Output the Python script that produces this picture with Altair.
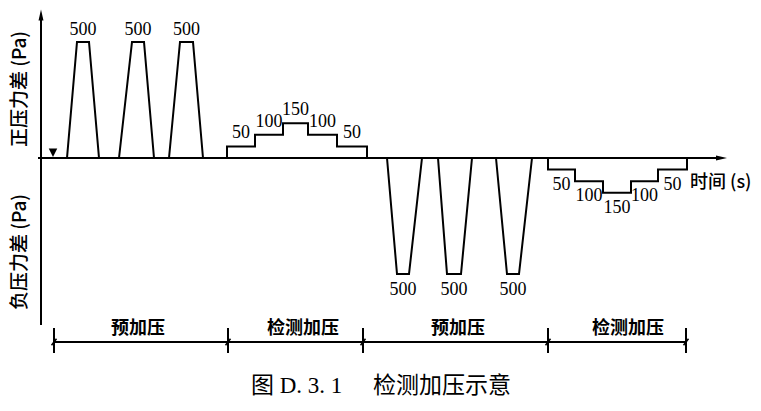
import altair as alt
import pandas as pd

# ---- values (time in s from origin, pressure difference in Pa) ----
POS_PULSES = [[26, 36, 48, 58], [78, 91, 103, 113], [128, 139, 152, 162]]
NEG_PULSES = [[346, 356, 368, 381], [397, 406, 420, 431], [455, 466, 478, 491]]
PULSE_PEAK = 500
POS_STEP_T = [186, 214, 242, 267, 296, 326]
NEG_STEP_T = [507, 534, 562, 590, 617, 646]
STEP_LEVELS = [50, 100, 150, 100, 50]
PHASE_BOUNDS = [13, 187, 322, 507, 645]
PHASE_NAMES = ["预加压", "检测加压", "预加压", "检测加压"]
PHASE_LABEL_T = [97, 262, 417, 587]
START_MARK_T = 12
CAPTION_PARTS = ["图 D. 3. 1", "检测加压示意"]

# axis / annotation extents (in data units)
X_AXIS_START, X_AXIS_END = -3, 686
Y_AXIS_BOTTOM, Y_AXIS_TOP = -720, 640
DIM_LINE_P, DIM_TICK_TOP, DIM_TICK_BOTTOM, PHASE_LABEL_P = -793, -733, -840, -735

xs = alt.Scale(domain=[-33, 712], nice=False, zero=False)
ys = alt.Scale(domain=[-1056.03, 646.55], nice=False, zero=False)
X = lambda f: alt.X(f, type="quantitative", scale=xs, axis=None)
Y = lambda f: alt.Y(f, type="quantitative", scale=ys, axis=None)

# ---- traces ----
rows = []
tr = 0
for sign, pulses in ((1, POS_PULSES), (-1, NEG_PULSES)):
    for s, a, b, e in pulses:
        for i, (t, p) in enumerate([(s, 0), (a, sign * PULSE_PEAK), (b, sign * PULSE_PEAK), (e, 0)]):
            rows.append(dict(trace=tr, order=i, t=t, p=p))
        tr += 1
for sign, ts in ((1, POS_STEP_T), (-1, NEG_STEP_T)):
    pts = [(ts[0], 0)]
    for k, lv in enumerate(STEP_LEVELS):
        pts.append((ts[k], sign * lv))
        pts.append((ts[k + 1], sign * lv))
    pts.append((ts[-1], 0))
    for i, (t, p) in enumerate(pts):
        rows.append(dict(trace=tr, order=i, t=t, p=p))
    tr += 1
traces = pd.DataFrame(rows)

lines = alt.Chart(traces).mark_line(color="black", strokeWidth=2, strokeJoin="miter").encode(
    x=X("t"), y=Y("p"), detail="trace:N", order="order:Q"
)

# ---- axes ----
xaxis = alt.Chart(pd.DataFrame({"t": [X_AXIS_START], "t2": [X_AXIS_END - 8], "p": [0]})).mark_rule(
    color="black", strokeWidth=2).encode(x=X("t"), x2="t2", y=Y("p"))
yaxis = alt.Chart(pd.DataFrame({"t": [0], "p": [Y_AXIS_BOTTOM], "p2": [Y_AXIS_TOP - 30]})).mark_rule(
    color="black", strokeWidth=2).encode(x=X("t"), y=Y("p"), y2="p2")
yarrow = alt.Chart(pd.DataFrame({"t": [0], "p": [Y_AXIS_TOP]})).mark_point(
    shape="M0,0L0.45,2L-0.45,2Z", size=121, filled=True, color="black", opacity=1, strokeWidth=0
).encode(x=X("t"), y=Y("p"))
xarrow = alt.Chart(pd.DataFrame({"t": [X_AXIS_END], "p": [0]})).mark_point(
    shape="M0,0L-2,-0.45L-2,0.45Z", size=121, filled=True, color="black", opacity=1, strokeWidth=0
).encode(x=X("t"), y=Y("p"))
start_mark = alt.Chart(pd.DataFrame({"t": [START_MARK_T], "p": [23]})).mark_point(
    shape="M-1,-1L1,-1L0,1Z", size=72, filled=True, color="black", opacity=1, strokeWidth=0
).encode(x=X("t"), y=Y("p"))

# ---- value labels ----
NUM_FONT = "Liberation Serif"
def num_layer(df, dy):
    return alt.Chart(df).mark_text(font=NUM_FONT, fontSize=18, color="black", dy=dy,
                                   baseline="middle", align="center").encode(
        x=X("t"), y=Y("p"), text="label:N")

pos_pulse_lab = pd.DataFrame({"t": [(a + b) / 2 for _, a, b, _ in POS_PULSES],
                              "p": [PULSE_PEAK] * 3, "label": [str(PULSE_PEAK)] * 3})
neg_pulse_lab = pd.DataFrame({"t": [(a + b) / 2 for _, a, b, _ in NEG_PULSES],
                              "p": [-PULSE_PEAK] * 3, "label": [str(PULSE_PEAK)] * 3})
pos_step_lab = pd.DataFrame({"t": [(POS_STEP_T[k] + POS_STEP_T[k + 1]) / 2 for k in range(5)],
                             "p": STEP_LEVELS, "label": [str(v) for v in STEP_LEVELS]})
neg_step_lab = pd.DataFrame({"t": [(NEG_STEP_T[k] + NEG_STEP_T[k + 1]) / 2 for k in range(5)],
                             "p": [-v for v in STEP_LEVELS], "label": [str(v) for v in STEP_LEVELS]})

# ---- phase dimension line ----
dim_line = alt.Chart(pd.DataFrame({"t": [PHASE_BOUNDS[0]], "t2": [PHASE_BOUNDS[-1]], "p": [DIM_LINE_P]})).mark_rule(
    color="black", strokeWidth=2).encode(x=X("t"), x2="t2", y=Y("p"))
dim_ticks = alt.Chart(pd.DataFrame({"t": PHASE_BOUNDS, "p": [DIM_TICK_TOP] * 5, "p2": [DIM_TICK_BOTTOM] * 5})).mark_rule(
    color="black", strokeWidth=2).encode(x=X("t"), y=Y("p"), y2="p2")
dim_slash = alt.Chart(pd.DataFrame({"t": [b - 2.5 for b in PHASE_BOUNDS], "t2": [b + 2.5 for b in PHASE_BOUNDS],
                                    "p": [DIM_LINE_P - 14] * 5, "p2": [DIM_LINE_P + 14] * 5})).mark_rule(
    color="black", strokeWidth=1.5).encode(x=X("t"), x2="t2", y=Y("p"), y2="p2")
phase_lab = alt.Chart(pd.DataFrame({"t": PHASE_LABEL_T, "p": [PHASE_LABEL_P] * 4, "label": PHASE_NAMES})).mark_text(
    font="Noto Sans CJK SC", fontSize=18, fontWeight="bold", color="black", baseline="middle", align="center"
).encode(x=X("t"), y=Y("p"), text="label:N")

# ---- titles ----
CJK = "Noto Sans CJK SC"
ytitle_pos = alt.Chart(pd.DataFrame({"label": ["正压力差 (Pa)"]})).mark_text(
    font=CJK, fontSize=19, fontWeight=500, angle=270, color="black", baseline="middle", align="center"
).encode(x=alt.value(12), y=alt.value(81), text="label:N")
ytitle_neg = alt.Chart(pd.DataFrame({"label": ["负压力差 (Pa)"]})).mark_text(
    font=CJK, fontSize=19, fontWeight=500, angle=270, color="black", baseline="middle", align="center"
).encode(x=alt.value(12), y=alt.value(244), text="label:N")
xtitle = alt.Chart(pd.DataFrame({"label": ["时间 (s)"]})).mark_text(
    font=CJK, fontSize=18, fontWeight=500, color="black", baseline="middle", align="left"
).encode(x=alt.value(682), y=alt.value(175), text="label:N")
caption1 = alt.Chart(pd.DataFrame({"label": [CAPTION_PARTS[0]]})).mark_text(
    font="Liberation Serif, Noto Sans CJK SC", fontSize=23, color="black", baseline="middle", align="left"
).encode(x=alt.value(243), y=alt.value(378), text="label:N")
caption2 = alt.Chart(pd.DataFrame({"label": [CAPTION_PARTS[1]]})).mark_text(
    font="Liberation Serif, Noto Sans CJK SC", fontSize=23, color="black", baseline="middle", align="left"
).encode(x=alt.value(365), y=alt.value(378), text="label:N")

chart = alt.layer(
    xaxis, yaxis, yarrow, xarrow, start_mark, lines,
    num_layer(pos_pulse_lab, -12), num_layer(neg_pulse_lab, 16),
    num_layer(pos_step_lab, -13), num_layer(neg_step_lab, 15),
    dim_line, dim_ticks, dim_slash, phase_lab,
    ytitle_pos, ytitle_neg, xtitle, caption1, caption2,
).properties(
    width=745, height=395, autosize=alt.AutoSizeParams(type="none"), padding=0
).configure_view(stroke=None)

chart.save("out.html", embed_options={"renderer": "svg", "actions": False})
